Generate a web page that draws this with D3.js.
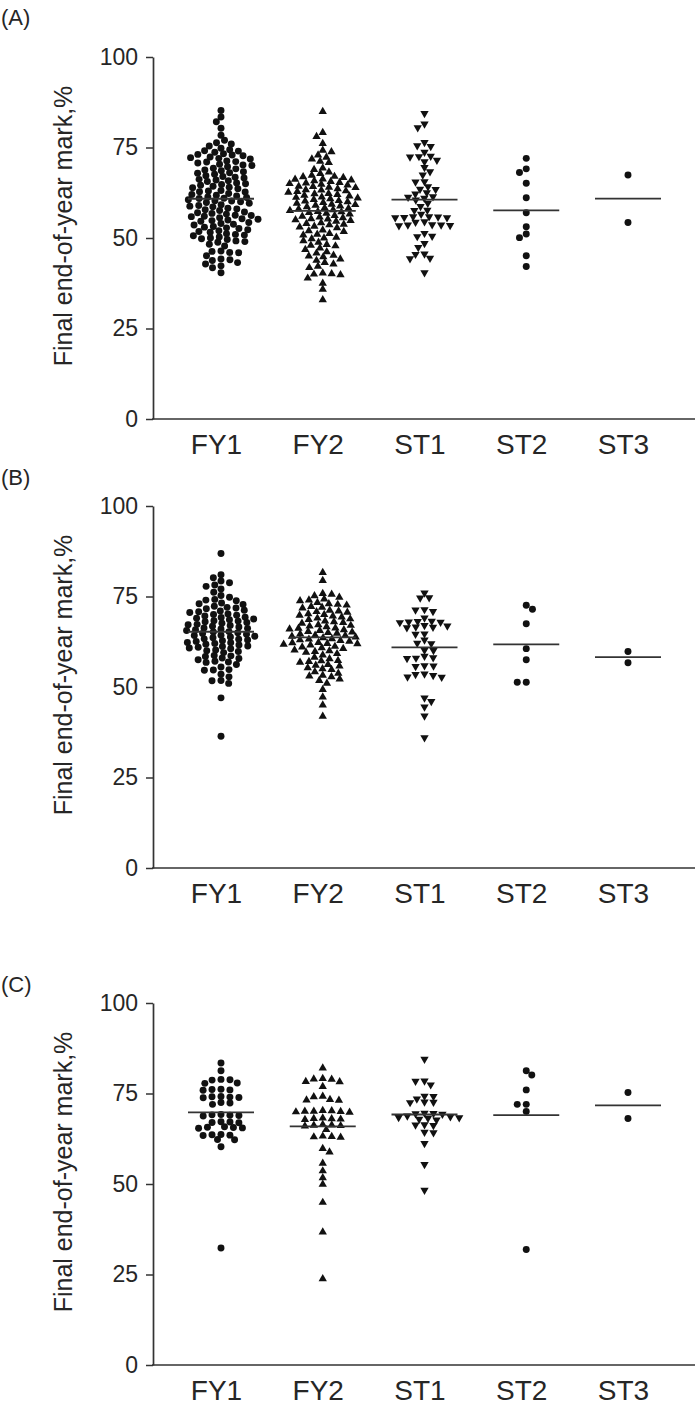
<!DOCTYPE html>
<html><head><meta charset="utf-8">
<script src="https://cdn.jsdelivr.net/npm/d3@7"></script>
<style>
body{margin:0;background:#fff}
svg{display:block}
text{font-family:"Liberation Sans",Arial,Helvetica,sans-serif;fill:#262626}
</style>
</head><body>
<svg id="chart" width="699" height="1407"></svg>
<script>
// ---------- data ----------
const categories = ["FY1","FY2","ST1","ST2","ST3"];
const yTicks = [0,25,50,75,100];
const panelLabels = ["(A)","(B)","(C)"];
const yTitle = "Final end-of-year mark,%";

// Panel A
const A_FY1 = [85.2,83.4,82.1,80.3,78.4,77.0,76.3,76.0,75.4,74.8,
 74.4,74.1,73.7,74.0,73.3,72.9,73.1,72.7,72.4,72.0,71.8,72.2,71.3,71.0,70.7,71.1,
 70.4,70.0,69.7,70.2,69.3,68.8,69.1,68.6,68.3,67.9,68.0,67.6,67.2,66.8,67.0,66.6,
 66.2,65.8,66.0,65.6,65.2,64.8,65.0,64.6,64.3,63.9,64.0,63.6,63.1,62.7,63.0,62.8,
 62.3,61.8,62.0,61.6,61.3,60.9,61.0,60.6,61.2,60.3,59.8,60.0,59.6,60.2,
 59.2,58.8,59.0,58.6,58.2,57.8,58.0,57.6,57.2,56.8,57.0,56.6,
 56.3,55.9,56.0,55.6,56.2,55.2,54.8,55.0,54.6,55.3,54.3,53.8,54.0,53.6,
 53.2,52.8,53.0,52.6,52.3,51.8,52.0,51.6,51.2,50.8,51.0,50.6,50.3,49.8,50.0,49.6,
 49.2,48.8,49.0,48.3,47.8,46.3,45.9,46.0,46.4,45.1,44.2,43.8,44.0,43.2,42.8,42.3,41.8,40.4];
const A_FY2 = [84.9,79.1,78.0,76.1,74.2,73.8,72.9,72.3,71.8,71.2,70.8,69.3,68.9,68.2,67.8,
 67.3,66.9,67.0,66.7,66.2,65.8,66.0,65.6,66.3,65.2,64.8,65.0,64.6,65.3,64.3,63.9,64.0,63.6,64.2,
 63.2,62.8,63.0,62.6,63.3,62.2,61.8,62.0,61.6,62.3,61.2,60.8,61.0,60.6,61.3,60.2,59.8,60.0,59.6,60.3,
 59.2,58.8,59.0,58.6,59.3,58.2,57.8,58.0,57.6,58.3,57.2,56.8,57.0,56.6,57.3,56.2,55.8,56.0,55.6,
 55.2,54.8,55.0,54.6,55.3,54.2,53.8,54.0,53.6,53.2,52.8,53.0,52.2,51.8,52.0,51.2,50.8,51.0,
 50.2,49.8,50.0,49.2,48.8,48.2,47.8,48.0,47.2,46.8,46.2,45.8,45.2,44.8,45.0,44.2,43.8,43.2,42.8,
 42.2,41.8,40.3,40.0,39.8,40.1,38.9,37.5,35.8,32.9];
const A_ST1 = [84.4,81.5,80.5,76.4,75.5,75.3,73.7,72.5,72.6,72.4,71.5,71.1,69.5,68.3,67.4,65.6,65.5,
 64.2,63.5,63.4,62.5,62.2,61.4,61.3,61.0,60.5,59.6,58.7,57.7,57.6,56.6,55.9,55.8,55.7,55.6,55.9,55.6,
 54.5,54.4,53.6,53.5,53.4,53.6,53.7,51.3,50.4,50.5,48.5,47.4,45.6,45.5,44.4,44.3,40.4];
const A_ST2 = [72.0,69.1,68.1,65.1,61.1,57.0,53.1,51.1,50.1,45.1,42.1];
const A_ST3 = [67.4,54.3];

// Panel B
const B_FY1 = [86.9,81.0,80.2,79.3,78.8,78.2,77.8,77.1,76.2,75.3,74.8,74.2,73.8,74.0,73.2,72.8,73.0,
 72.3,71.8,72.0,71.6,71.2,70.8,71.0,70.6,70.2,69.8,70.0,69.6,69.2,68.8,69.0,68.6,69.3,
 68.2,67.8,68.0,67.6,68.3,67.2,66.8,67.0,66.6,67.3,66.2,65.8,66.0,65.6,66.3,
 65.2,64.8,65.0,64.6,65.3,64.2,63.8,64.0,63.6,64.3,63.2,62.8,63.0,62.6,63.3,
 62.2,61.8,62.0,61.6,62.3,61.2,60.8,61.0,60.6,61.3,60.2,59.8,60.0,59.5,
 58.7,58.6,58.4,58.0,57.9,57.5,57.1,56.9,56.8,56.2,55.5,54.7,54.6,54.8,53.5,52.8,
 51.8,51.7,51.0,47.0,36.4];
const B_FY2 = [81.6,79.4,75.8,75.6,75.2,74.8,74.3,73.8,74.0,73.3,72.8,73.0,72.6,72.2,71.8,72.0,
 71.2,70.8,71.0,70.6,70.2,69.8,70.0,69.6,69.3,68.8,69.0,68.6,68.2,67.8,68.0,67.6,67.2,66.8,67.0,66.6,
 66.2,65.8,66.0,65.6,66.3,65.2,64.8,65.0,64.6,65.3,64.2,63.8,64.0,63.6,64.3,63.2,62.8,63.0,62.6,63.3,
 62.2,61.8,62.0,61.6,62.3,61.9,61.2,60.8,61.0,60.6,60.2,59.8,60.0,59.6,59.2,58.8,58.2,57.8,
 57.3,57.0,56.8,57.2,56.2,55.8,56.0,55.3,54.8,55.0,54.2,53.8,53.2,52.8,53.0,52.2,51.8,51.0,49.3,47.2,45.0,41.9];
const B_ST1 = [76.0,74.7,74.6,71.4,70.9,71.3,69.1,68.0,68.1,67.9,68.2,67.8,67.0,66.5,66.6,66.4,66.9,
 64.7,64.6,62.0,62.1,63.0,60.1,60.2,58.0,57.9,58.1,58.5,55.8,55.7,55.9,53.6,52.7,52.8,53.2,53.5,
 47.0,46.0,44.5,42.0,36.0];
const B_ST2 = [72.6,71.5,67.5,60.6,57.5,51.3,51.3];
const B_ST3 = [59.8,56.7];

// Panel C
const C_FY1 = [83.4,81.3,78.8,78.7,77.8,77.9,78.9,76.0,76.1,75.9,76.2,74.0,74.1,73.9,74.2,73.8,72.5,72.4,72.0,
 69.0,69.1,68.9,69.2,68.8,67.0,67.1,66.9,67.2,65.6,65.5,65.7,65.4,65.8,63.6,63.5,63.7,63.4,62.3,62.2,60.3,32.3];
const C_FY2 = [82.0,79.0,78.3,79.1,76.9,78.2,78.9,74.2,73.2,73.3,73.1,74.1,70.1,70.0,70.2,69.9,70.3,70.1,69.8,
 68.0,68.1,67.9,68.2,67.8,66.2,66.3,66.1,66.0,66.4,65.0,63.0,63.1,62.9,63.2,59.8,58.8,55.7,53.6,51.7,49.9,44.9,36.7,23.8];
const C_ST1 = [84.5,78.5,77.4,78.4,74.3,74.2,72.6,72.5,72.7,73.5,69.5,69.4,69.6,68.8,69.3,68.6,68.2,68.4,68.3,
 67.9,67.7,66.3,66.2,66.4,64.3,64.2,61.2,55.4,48.3];
const C_ST2 = [81.3,80.1,76.0,72.0,72.0,70.0,31.9];
const C_ST3 = [75.3,68.1];

const panelData = [
  [A_FY1,A_FY2,A_ST1,A_ST2,A_ST3],
  [B_FY1,B_FY2,B_ST1,B_ST2,B_ST3],
  [C_FY1,C_FY2,C_ST1,C_ST2,C_ST3]
];

// ---------- layout / style ----------
const layout = [
  {labelY:25,  top:57,   bottom:419},
  {labelY:485, top:506,  bottom:868},
  {labelY:992, top:1003, bottom:1365}
];
const axisX = 153, axisRight = 695;
const markerType = [d3.symbolCircle, d3.symbolTriangle, d3.symbolTriangle, d3.symbolCircle, d3.symbolCircle];
const markerRot = [0,0,180,0,0];
const markerSize = [38,30,30,38,38];
const ink = "#111";

const svg = d3.select("#chart");
const x = d3.scalePoint().domain(categories).range([221, 628]);

function swarm(vals, yScale, wx, wy){
  const pts = vals.map(v => ({v, y:yScale(v), x:0})).sort((a,b)=>a.y-b.y);
  const placed = [];
  let flip = 1;
  for (const p of pts){
    const cands = [0];
    for (const q of placed){
      const dy = Math.abs(q.y-p.y);
      if (dy < wy){ const dx = wx*Math.sqrt(1-(dy/wy)**2); cands.push(q.x+dx, q.x-dx); }
    }
    const ok = c => placed.every(q => { const a=(q.y-p.y)/wy, b=(q.x-c)/wx; return a*a+b*b >= 0.999; });
    cands.sort((a,b)=>Math.abs(a)-Math.abs(b) || flip*(a-b));
    p.x = cands.find(ok);
    flip = -flip;
    placed.push(p);
  }
  return pts;
}

layout.forEach((L, pi) => {
  const y = d3.scaleLinear().domain([0,100]).range([L.bottom, L.top]);
  const g = svg.append("g");

  // panel label
  g.append("text").attr("x",1).attr("y",L.labelY).attr("font-size",22).text(panelLabels[pi]);

  // y axis
  const ya = g.append("g").attr("transform",`translate(${axisX},0)`)
    .call(d3.axisLeft(y).tickValues(yTicks).tickSize(7).tickSizeOuter(0).tickPadding(8));
  ya.select(".domain").attr("stroke","#333").attr("stroke-width",1.7);
  ya.selectAll(".tick line").attr("stroke","#333").attr("stroke-width",1.5);
  ya.selectAll(".tick text").attr("font-size",23).attr("fill","#262626")
    .attr("font-family","'Liberation Sans',Arial,sans-serif");

  // x axis baseline
  g.append("line").attr("x1",axisX-1).attr("x2",axisRight)
    .attr("y1",y(0)).attr("y2",y(0)).attr("stroke","#333").attr("stroke-width",1.7);
  const xa = g.append("g").attr("transform",`translate(0,${y(0)})`)
    .call(d3.axisBottom(x).tickSize(0).tickPadding(0));
  xa.select(".domain").remove();
  xa.selectAll(".tick text").attr("font-size",28).attr("dy",0).attr("y",35).attr("dx",-5)
    .attr("fill","#262626").attr("font-family","'Liberation Sans',Arial,sans-serif");

  // y title
  g.append("text")
    .attr("transform",`translate(72,${L.bottom-193}) rotate(-90)`)
    .attr("text-anchor","middle").attr("font-size",25).text(yTitle);

  // points + mean lines
  panelData[pi].forEach((vals, ci) => {
    const cx = x(categories[ci]);
    const pts = swarm(vals, y, 9, 5.5);
    const sym = d3.symbol().type(markerType[ci]).size(markerSize[ci]);
    g.append("g").selectAll("path").data(pts).join("path")
      .attr("d", sym)
      .attr("transform", d => `translate(${cx + d.x},${d.y}) rotate(${markerRot[ci]})`)
      .attr("fill", ink);
    const m = d3.mean(vals);
    g.append("line").attr("x1",cx-33).attr("x2",cx+33).attr("y1",y(m)).attr("y2",y(m))
      .attr("stroke","#333").attr("stroke-width",1.8);
  });
});
</script>
</body></html>
